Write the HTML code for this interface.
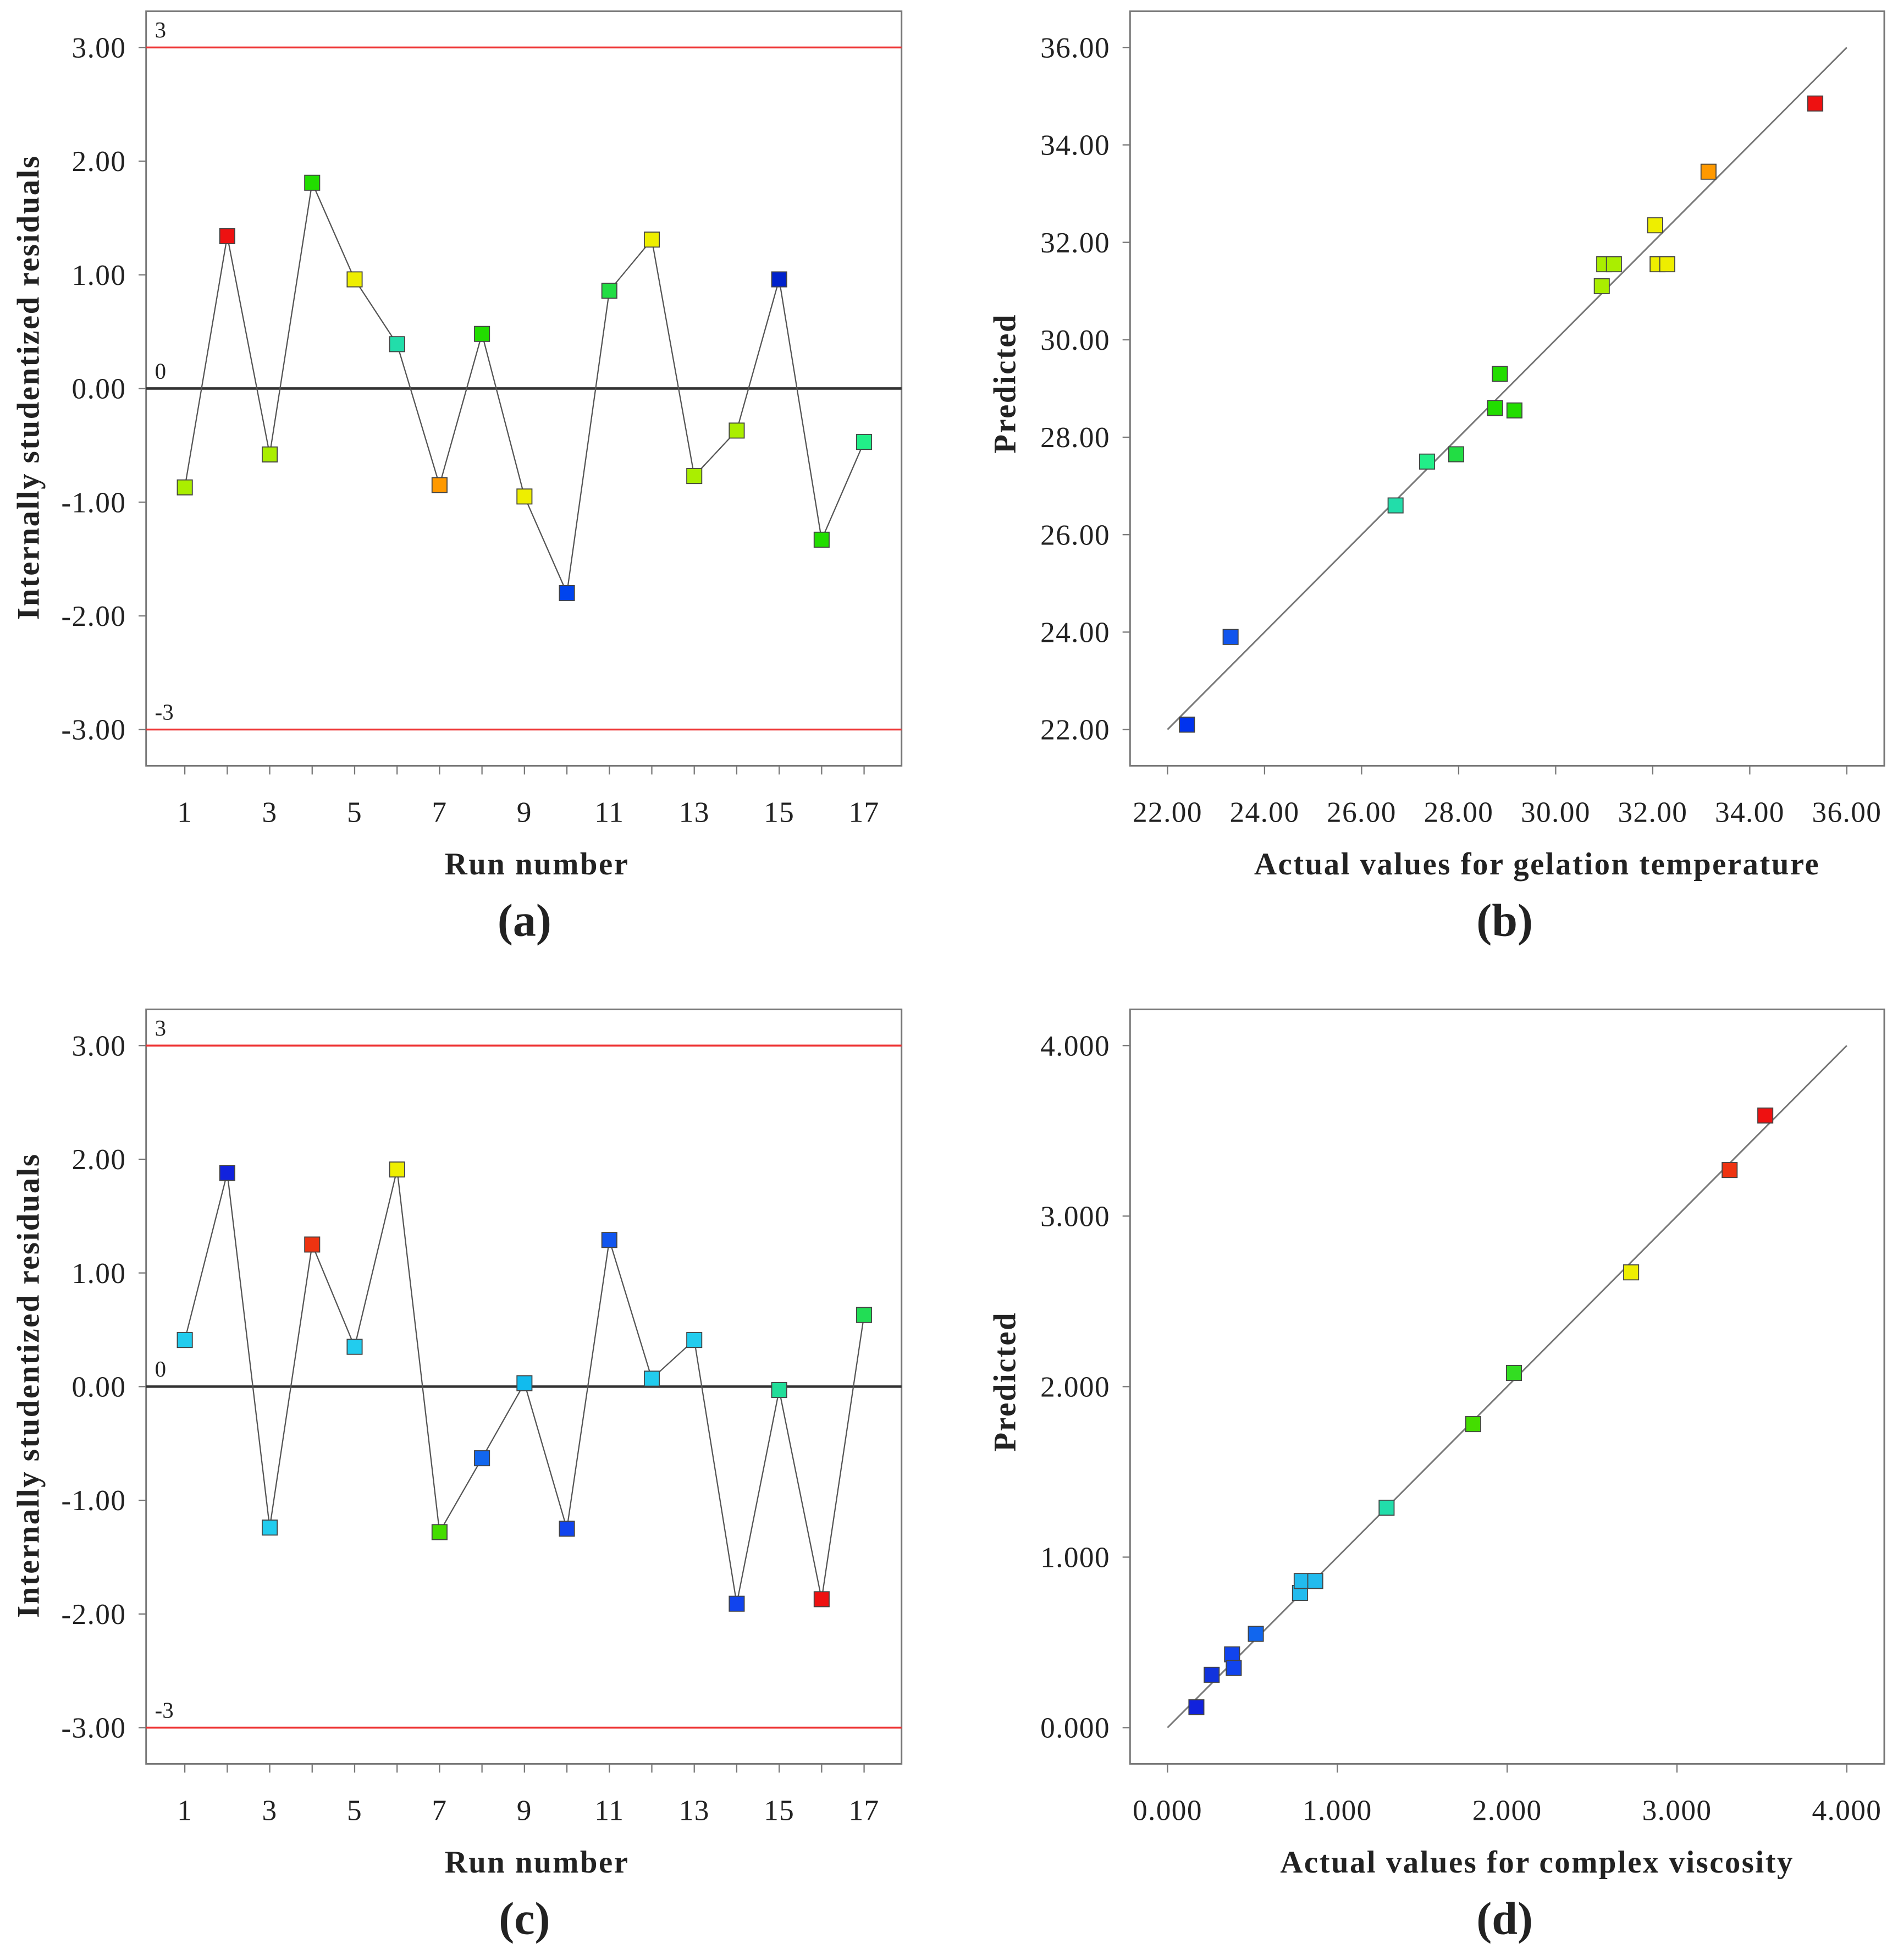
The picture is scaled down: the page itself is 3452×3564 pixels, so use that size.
<!DOCTYPE html>
<html><head><meta charset="utf-8"><style>
html,body{margin:0;padding:0;background:#fff}
svg{display:block}
text{font-family:"Liberation Serif",serif;fill:#222}
.tk{font-size:23.5px;letter-spacing:0.6px}
.ti{font-size:25px;font-weight:bold;letter-spacing:1.1px}
</style></head><body>
<svg id="s" width="3452" height="3564" viewBox="0 0 1520 1569" preserveAspectRatio="none" xmlns="http://www.w3.org/2000/svg"></svg>
<script>
// Panel (a) residuals
const runsA = [1,2,3,4,5,6,7,8,9,10,11,12,13,14,15,16,17];
const residA = [-0.87,1.34,-0.58,1.81,0.96,0.39,-0.85,0.48,-0.95,-1.80,0.86,1.31,-0.77,-0.37,0.96,-1.33,-0.47];
const colorsA = ['#aaee00','#ee1111','#aaee00','#22dd00','#eeee00','#22ddaa','#ff9900','#22dd00','#eeee00','#0044ee','#22dd44','#eeee00','#aaee00','#aaee00','#0022cc','#22dd00','#22ee88'];
// Panel (c) residuals
const residC = [0.41,1.88,-1.24,1.25,0.35,1.91,-1.28,-0.63,0.03,-1.25,1.29,0.07,0.41,-1.91,-0.03,-1.87,0.63];
const colorsC = ['#22ccee','#1122dd','#22ccee','#ee3311','#22ccee','#eeee00','#44dd00','#1166ee','#11bbee','#1144ee','#1155ee','#22ccee','#22ccee','#1144ee','#22dd99','#ee1111','#22dd55'];
// Panel (b) gelation temperature
const actualB = [22.4,23.3,26.7,27.35,27.95,28.75,28.85,29.15,30.95,31.0,31.2,32.05,32.1,32.3,33.15,35.35];
const predB = [22.1,23.9,26.6,27.5,27.65,28.6,29.3,28.55,31.1,31.55,31.55,32.35,31.55,31.55,33.45,34.85];
const colorsB = ['#0033ee','#1155ee','#22ddaa','#22ee88','#22dd44','#22dd00','#22dd00','#22dd00','#aaee00','#aaee00','#aaee00','#eeee00','#eeee00','#eeee00','#ff9900','#ee1111'];
// Panel (d) complex viscosity
const actualD = [0.17,0.26,0.38,0.39,0.52,0.78,0.79,0.87,1.29,1.80,2.04,2.73,3.31,3.52];
const predD = [0.12,0.31,0.43,0.35,0.55,0.79,0.86,0.86,1.29,1.78,2.08,2.67,3.27,3.59];
const colorsD = ['#1122dd','#1133dd','#1144ee','#1144ee','#1166ee','#22bbee','#22bbee','#22bbee','#22ddaa','#44dd00','#33dd22','#eeee00','#ee3311','#ee1111'];
const ticksRes = [3,2,1,0,-1,-2,-3];
const ticksB = [22,24,26,28,30,32,34,36];
const ticksD = [0,1,2,3,4];

const NS='http://www.w3.org/2000/svg', S=document.getElementById('s');
function el(tag, attrs, txt){const e=document.createElementNS(NS,tag);for(const k in attrs)e.setAttribute(k,attrs[k]);if(txt!==undefined)e.textContent=txt;S.appendChild(e);return e;}

function resPanel(top, vals, cols, label, key){
  const x0=117,x1=722,y0=top,y1=top+604;
  const X=r=>148+(r-1)*34, Y=v=>top+302-v*91;
  const f=el('rect',{x:x0,y:y0,width:x1-x0,height:y1-y0,fill:'none',stroke:'#777','stroke-width':1.3});
  
  ticksRes.forEach(t=>{const ln=el('line',{x1:x0-6,x2:x0,y1:Y(t),y2:Y(t),stroke:'#777'});
    const tx=el('text',{x:x0-16,y:Y(t)+8,'text-anchor':'end','class':'tk'},t.toFixed(2));});
  runsA.forEach(r=>{const ln=el('line',{x1:X(r),x2:X(r),y1:y1,y2:y1+7,stroke:'#777'});
    if(r%2){const tx=el('text',{x:X(r),y:y1+45,'text-anchor':'middle','class':'tk'},r);}});
  [[3,'#ee3333','3'],[-3,'#ee3333','-3'],[0,'#333','0']].forEach(([v,c,l])=>{const ln=el('line',{x1:x0,x2:x1,y1:Y(v),y2:Y(v),stroke:c,'stroke-width':v?1.5:2});
    const tx=el('text',{x:124,y:Y(v)-8,'font-size':18},l);});
  const pts=vals.map((v,i)=>X(runsA[i])+','+Y(v)).join(' ');
  const pl=el('polyline',{points:pts,fill:'none',stroke:'#555','stroke-width':1});
  vals.forEach((v,i)=>{const m=el('rect',{x:X(runsA[i])-6,y:Y(v)-6,width:12,height:12,fill:cols[i],stroke:'#444','stroke-width':0.8});});
  const yt=el('text',{x:0,y:0,'class':'ti','text-anchor':'middle',transform:`translate(31,${top+301}) rotate(-90)`},'Internally studentized residuals');
  const xt=el('text',{x:430,y:y1+87,'class':'ti','text-anchor':'middle'},'Run number');
  const pl2=el('text',{x:420,y:y1+136,'font-size':37,'font-weight':'bold','text-anchor':'middle'},label);
}

function predPanel(top, ax, py, cols, ticks, lo, hi, dec, xtitle, label, key){
  const x0=905,x1=1509,y0=top,y1=top+604;
  const X=v=>935+(v-lo)/(hi-lo)*544, Y=v=>top+575-(v-lo)/(hi-lo)*546;
  const f=el('rect',{x:x0,y:y0,width:x1-x0,height:y1-y0,fill:'none',stroke:'#777','stroke-width':1.3});
  
  ticks.forEach(t=>{let ln=el('line',{x1:x0-6,x2:x0,y1:Y(t),y2:Y(t),stroke:'#777'});
    let tx=el('text',{x:x0-16,y:Y(t)+8,'text-anchor':'end','class':'tk'},t.toFixed(dec));
    ln=el('line',{x1:X(t),x2:X(t),y1:y1,y2:y1+7,stroke:'#777'});
    tx=el('text',{x:X(t),y:y1+45,'text-anchor':'middle','class':'tk'},t.toFixed(dec));});
  const d=el('line',{x1:X(lo),y1:Y(lo),x2:X(hi),y2:Y(hi),stroke:'#777','stroke-width':1.3});
  ax.forEach((a,i)=>{const m=el('rect',{x:X(a)-6,y:Y(py[i])-6,width:12,height:12,fill:cols[i],stroke:'#444','stroke-width':0.8});});
  const yt=el('text',{x:0,y:0,'class':'ti','text-anchor':'middle',transform:`translate(813,${top+298}) rotate(-90)`},'Predicted');
  const xt=el('text',{x:1231,y:y1+87,'class':'ti','text-anchor':'middle'},xtitle);
  const pl=el('text',{x:1205,y:y1+136,'font-size':37,'font-weight':'bold','text-anchor':'middle'},label);
}

resPanel(9, residA, colorsA, '(a)', 'panel-a');
resPanel(808, residC, colorsC, '(c)', 'panel-c');
predPanel(9, actualB, predB, colorsB, ticksB, 22, 36, 2, 'Actual values for gelation temperature', '(b)', 'panel-b');
predPanel(808, actualD, predD, colorsD, ticksD, 0, 4, 3, 'Actual values for complex viscosity', '(d)', 'panel-d');
</script>
</body></html>
